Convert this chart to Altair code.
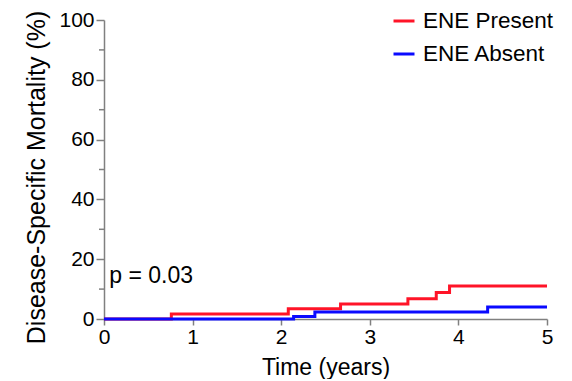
import altair as alt
import pandas as pd

# Kaplan-Meier style cumulative mortality (step-after)
red_label = "ENE Present"
red_times = [0.0, 0.76, 2.08, 2.67, 3.43, 3.75, 3.90, 5.0]
red_vals = [0.0, 1.7, 3.4, 5.0, 6.8, 8.9, 11.0, 11.0]

blue_label = "ENE Absent"
blue_times = [0.0, 2.14, 2.38, 4.33, 5.0]
blue_vals = [0.0, 0.8, 2.3, 4.0, 4.0]

x_ticks = [0, 1, 2, 3, 4, 5]
y_ticks = [0, 20, 40, 60, 80, 100]
y_minor = [10, 30, 50, 70, 90]

p_text = "p = 0.03"
p_x = 0.06
p_y = 14.5

FONT = "Liberation Sans"
AX = "#808080"

df = pd.concat([
    pd.DataFrame({"t": red_times, "v": red_vals, "g": red_label, "o": range(len(red_times))}),
    pd.DataFrame({"t": blue_times, "v": blue_vals, "g": blue_label, "o": range(len(blue_times))}),
])

xs = alt.Scale(domain=[0, 5], nice=False)
ys = alt.Scale(domain=[0, 100], nice=False)

lines = alt.Chart(df).mark_line(interpolate="step-after", strokeWidth=3).encode(
    x=alt.X("t:Q", scale=xs, axis=alt.Axis(values=x_ticks, title="Time (years)", tickSize=6,
                                           labelPadding=1, titlePadding=9, format="d",
                                           labelFlush=False)),
    y=alt.Y("v:Q", scale=ys, axis=alt.Axis(values=y_ticks, title="Disease-Specific Mortality (%)",
                                           tickSize=8, labelPadding=2, titlePadding=9, format="d",
                                           titleFontSize=25, titleY=157, labelFlush=False)),
    color=alt.Color("g:N", scale=alt.Scale(domain=[red_label, blue_label], range=["#ff1428", "#0a0aff"]),
                    legend=alt.Legend(title=None, orient="none", legendX=288, legendY=-11,
                                      symbolType="stroke", symbolSize=441, symbolStrokeWidth=3,
                                      labelFontSize=22.5, labelFont=FONT, labelColor="black",
                                      labelOffset=7, rowPadding=9, padding=0)),
    order="o:Q",
)

minor = alt.Chart(pd.DataFrame({"m": y_minor})).mark_rule(color=AX, strokeWidth=1.5).encode(
    y=alt.Y("m:Q", scale=ys),
    x=alt.value(-5),
    x2=alt.value(0),
)

ptxt = alt.Chart(pd.DataFrame({"x": [p_x], "y": [p_y], "s": [p_text]})).mark_text(
    align="left", baseline="middle", fontSize=23, font=FONT, color="black"
).encode(x=alt.X("x:Q", scale=xs), y=alt.Y("y:Q", scale=ys), text="s:N")

chart = alt.layer(minor, lines, ptxt).properties(
    width=443, height=299,
    autosize=alt.AutoSizeParams(type="none"),
    padding={"left": 96, "top": 12, "right": 17, "bottom": 60},
).configure_view(stroke=None).configure_axis(
    grid=False, domainColor=AX, tickColor=AX, domainWidth=1.5, tickWidth=1.5,
    labelFont=FONT, labelFontSize=21, labelColor="black",
    titleFont=FONT, titleFontSize=23, titleFontWeight="normal", titleColor="black",
)

chart.save("out.html", embed_options={"renderer": "svg", "actions": False})
